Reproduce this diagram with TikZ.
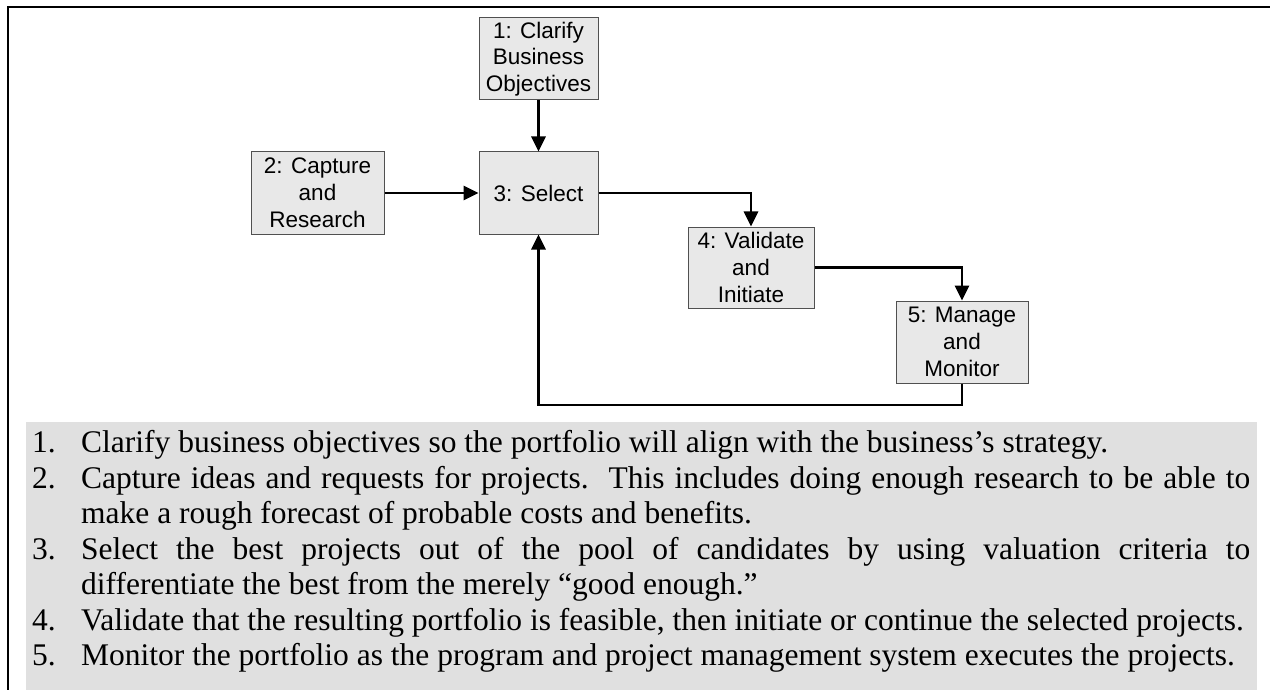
\documentclass[tikz,border=0pt]{standalone}
\usepackage{fontspec}
\setmainfont{Liberation Serif}
\newfontfamily\boxfont{Liberation Sans}
\usetikzlibrary{arrows.meta}
\definecolor{boxfill}{HTML}{E8E8E8}
\definecolor{boxline}{HTML}{505050}
\definecolor{listbg}{HTML}{E0E0E0}
\newcommand{\listitem}[1]{\par\hangindent=49pt\hangafter=1\noindent\makebox[49pt][l]{#1}}
\begin{document}
\begin{tikzpicture}[x=1pt,y=-1pt,
  stepbox/.style={draw=boxline, fill=boxfill, line width=1pt, inner sep=0pt, align=center,
    font=\boxfont\fontsize{22.5}{26.8}\selectfont},
  flow/.style={line width=2.8pt, -{Triangle[length=15pt,width=14pt]}}]
\fill[white] (0,0) rectangle (1270,690);
\useasboundingbox (0,0) rectangle (1270,690);
\fill[listbg] (26,422) rectangle (1257,690);
\draw[line width=2pt] (8,690) -- (8,7) -- (1270,7);

\node[stepbox, minimum width=119pt, minimum height=82pt] (b1) at (538.5,59) {1: Clarify\\Business\\Objectives};
\node[stepbox, minimum width=133pt, minimum height=82pt] (b2) at (317.5,193) {2: Capture\\and\\Research};
\node[stepbox, minimum width=119pt, minimum height=82pt] (b3) at (538.5,193) {3: Select};
\node[stepbox, minimum width=126pt, minimum height=81pt] (b4) at (751,267.5) {4: Validate\\and\\Initiate};
\node[stepbox, minimum width=132pt, minimum height=82pt] (b5) at (962,342) {5: Manage\\and\\Monitor};
\coordinate (loop) at (538.5,405);

\draw[flow] (b1.south) -- (b3.north);
\draw[flow] (b2.east) -- (b3.west);
\draw[flow] (b3.east) -| (b4.north);
\draw[flow] (b4.east) -| (b5.north);
\draw[flow] (b5.south) |- (loop) -- (b3.south);

\node[anchor=north west, inner sep=0pt, text width=1218pt, align=justify,
  font=\fontsize{31.5}{35.5}\selectfont] (list) at (32,417) {%
\hyphenpenalty=10000\tolerance=9999\parindent=0pt
\listitem{1.}Clarify business objectives so the portfolio will align with the business’s strategy.
\listitem{2.}Capture ideas and requests for projects.\ \ This includes doing enough research to be able to\linebreak make a rough forecast of probable costs and benefits.
\listitem{3.}Select the best projects out of the pool of candidates by using valuation criteria to\linebreak differentiate the best from the merely “good enough.”
\listitem{4.}Validate that the resulting portfolio is feasible, then initiate or continue the selected projects.
\listitem{5.}Monitor the portfolio as the program and project management system executes the projects.\par};
\end{tikzpicture}
\end{document}
